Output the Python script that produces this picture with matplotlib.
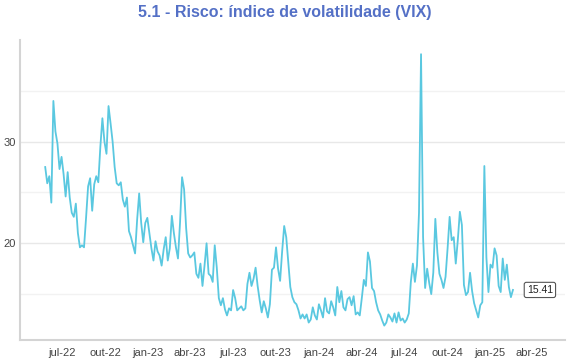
import pandas as pd
import matplotlib
matplotlib.use("Agg")
import matplotlib.pyplot as plt

plt.rcParams['font.family'] = ['Liberation Sans', 'DejaVu Sans']

title = "5.1 - Risco: índice de volatilidade (VIX)"
start_date = "2022-05-26"
end_date = "2025-02-19"

# VIX (~2 points per week)
vix = [
    # mai/jun-22
    27.5, 25.9, 26.6, 24.0, 34.0, 31.0, 29.8, 27.3,
    # jul-22 .. dez-22
    28.5, 26.8, 24.6, 27.0, 24.5, 23.0, 22.6,
    23.9, 21.0, 19.6, 19.8, 19.6, 22.5, 25.6,
    26.4, 23.2, 25.8, 26.6, 26.0, 29.5, 32.3,
    30.0, 28.8, 33.5, 31.8, 30.0, 27.5, 25.9,
    25.7, 26.0, 24.3, 23.6, 24.5, 21.2, 20.6,
    19.8, 19.0, 22.3, 24.9, 22.0, 20.1, 22.0,
    # 2023
    22.5, 21.0, 19.5, 18.3, 20.2, 19.2, 18.8,
    17.8, 19.4, 20.6, 18.3, 19.5, 22.7, 21.0,
    19.6, 18.5, 22.0, 26.5, 25.3, 21.5, 19.0,
    18.6, 18.8, 19.1, 17.0, 16.6, 18.0, 15.8,
    17.8, 20.0, 17.0, 16.8, 16.2, 19.8, 17.6,
    14.6, 13.9, 14.6, 13.5, 12.9, 13.6, 13.4,
    15.4, 14.6, 13.4, 13.6, 13.8, 13.4, 13.6,
    16.0, 17.1, 15.8, 16.5, 17.6, 15.8, 14.4,
    13.2, 14.3, 13.6, 12.7, 14.0, 17.4, 17.6,
    19.6, 17.5, 16.3, 19.2, 21.7, 20.6, 18.2,
    15.7, 14.7, 14.2, 14.0, 13.4, 12.6, 13.0,
    12.6, 13.0, 12.2, 12.5, 13.7, 12.9, 12.5,
    # 2024
    14.0, 13.4, 12.7, 14.6, 13.3, 13.1, 14.3,
    13.7, 12.9, 15.7, 14.2, 15.3, 13.7, 13.4,
    14.5, 14.7, 13.9, 14.8, 13.0, 13.2, 12.9,
    14.6, 16.4, 15.8, 19.1, 18.2, 15.6, 15.3,
    14.2, 13.4, 13.0, 12.4, 11.9, 12.2, 13.0,
    12.7, 12.3, 13.1, 12.2, 13.2, 12.4, 12.6,
    12.2, 12.5, 13.1, 16.2, 18.0, 16.2, 17.8,
    23.0, 38.6, 20.6, 15.6, 17.5, 16.1, 15.0,
    17.1, 22.4, 19.1, 17.0, 16.4, 15.6, 16.7,
    19.5, 22.6, 20.3, 20.6, 18.0, 20.3, 23.1,
    21.8, 15.9, 14.9, 15.2, 17.1, 15.3, 14.1,
    13.4, 12.7, 13.9, 14.2, 27.6, 18.6, 15.2,
    # 2025
    17.9, 17.6, 19.5, 18.8, 15.8, 15.2, 18.5,
    16.4, 17.9, 15.7, 14.7, 15.41,
]

tick_dates = ["2022-07-01", "2022-10-01", "2023-01-01", "2023-04-01",
              "2023-07-01", "2023-10-01", "2024-01-01", "2024-04-01",
              "2024-07-01", "2024-10-01", "2025-01-01", "2025-04-01"]
tick_labels = ["jul-22", "out-22", "jan-23", "abr-23", "jul-23", "out-23",
               "jan-24", "abr-24", "jul-24", "out-24", "jan-25", "abr-25"]

dates = pd.date_range(start_date, end_date, periods=len(vix))

fig = plt.figure(figsize=(5.7, 3.6), dpi=100)
ax = fig.add_axes([0.035, 0.056, 0.956, 0.833])

ax.plot(dates, vix, color="#5ac8e0", linewidth=1.3)

ax.set_xlim(pd.Timestamp("2022-04-02"), pd.Timestamp("2025-06-10"))
ax.set_ylim(10.5, 40)
ax.set_xticks(pd.to_datetime(tick_dates))
ax.set_xticklabels(tick_labels)
ax.set_yticks([20, 30])
ax.set_yticks([15, 25, 35], minor=True)
ax.grid(True, which="major", axis="y", color="#e8e8e8", linewidth=1)
ax.grid(True, which="minor", axis="y", color="#f2f2f2", linewidth=1)
ax.set_axisbelow(True)
ax.tick_params(axis="both", which="both", length=0, labelsize=8, colors="#444444")
ax.tick_params(axis="x", pad=6)
ax.tick_params(axis="y", pad=3)

for side in ["top", "right"]:
    ax.spines[side].set_visible(False)
for side in ["left", "bottom"]:
    ax.spines[side].set_color("#d4d4d4")
    ax.spines[side].set_linewidth(1.5)

ax.annotate(f"{vix[-1]:.2f}", xy=(dates[-1], vix[-1]), xytext=(10, 0),
            textcoords="offset points", ha="left", va="center", fontsize=7.5,
            color="#222222",
            bbox=dict(boxstyle="round,pad=0.25,rounding_size=0.2",
                      fc="white", ec="#555555", lw=0.8))

fig.suptitle(title, x=0.5, y=0.985, fontsize=11.5, fontweight="bold",
             color="#5470c6")

fig.savefig("out.png", dpi=100)
